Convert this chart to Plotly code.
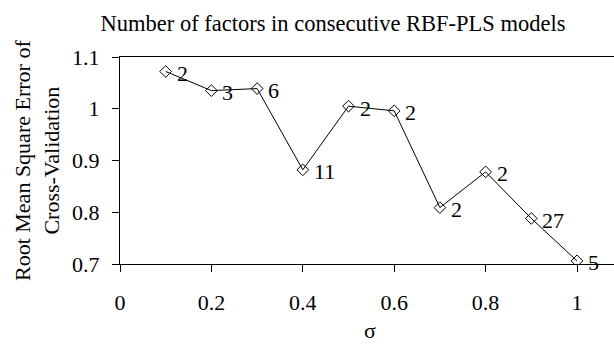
import plotly.graph_objects as go

sigma = [0.1, 0.2, 0.3, 0.4, 0.5, 0.6, 0.7, 0.8, 0.9, 1.0]
rmsecv = [1.072, 1.035, 1.039, 0.882, 1.005, 0.996, 0.809, 0.878, 0.788, 0.706]
factors = ["2", "3", "6", "11", "2", "2", "2", "2", "27", "5"]
x_ticks = [0, 0.2, 0.4, 0.6, 0.8, 1]
y_ticks = [0.7, 0.8, 0.9, 1.0, 1.1]
y_tick_text = ["0.7", "0.8", "0.9", "1", "1.1"]

FONT = "Liberation Serif"
FS = 22

fig = go.Figure()
fig.add_trace(go.Scatter(
    x=sigma, y=rmsecv, mode="lines+markers",
    line=dict(color="black", width=1),
    marker=dict(symbol="diamond-open", size=9, color="black", line=dict(width=1)),
    showlegend=False,
))

for xv, yv, t in zip(sigma, rmsecv, factors):
    fig.add_annotation(x=xv, y=yv, text=t, showarrow=False, xanchor="left",
                       yanchor="middle", xshift=9, yshift=-2,
                       font=dict(family=FONT, size=FS, color="black"))

fig.add_annotation(xref="paper", yref="paper", x=(370 - 120) / 494, y=-(330 - 264) / 207,
                   text="σ", showarrow=False, xanchor="center", yanchor="middle",
                   font=dict(family=FONT, size=FS, color="black"))

fig.add_annotation(xref="paper", yref="paper", x=(37 - 120) / 494, y=(264 - 161) / 207,
                   text="Root Mean Square Error of<br>Cross-Validation", textangle=-90,
                   showarrow=False, xanchor="center", yanchor="middle",
                   font=dict(family=FONT, size=FS, color="black"))

fig.update_layout(
    width=614, height=349,
    margin=dict(l=120, r=0, t=57, b=85),
    paper_bgcolor="white", plot_bgcolor="white",
    font=dict(family=FONT, size=FS, color="black"),
    title=dict(text="Number of factors in consecutive RBF-PLS models",
               x=333 / 614, xanchor="center", y=1 - 23 / 349, yanchor="middle",
               font=dict(family=FONT, size=22.5, color="black")),
    xaxis=dict(range=[0, 494 / 457], tickvals=x_ticks, ticktext=[str(v) for v in x_ticks],
               showline=True, linecolor="black", linewidth=1, mirror=True,
               ticks="outside", ticklen=7, tickcolor="black", showgrid=False,
               zeroline=False, ticklabelstandoff=12,
               tickfont=dict(family=FONT, size=FS, color="black")),
    yaxis=dict(range=[0.7, 1.1], tickvals=y_ticks, ticktext=y_tick_text,
               showline=True, linecolor="black", linewidth=1,
               ticks="outside", ticklen=7, tickcolor="black", showgrid=False,
               zeroline=False, ticklabelstandoff=8,
               tickfont=dict(family=FONT, size=FS, color="black")),
)

fig.write_html("out.html")
